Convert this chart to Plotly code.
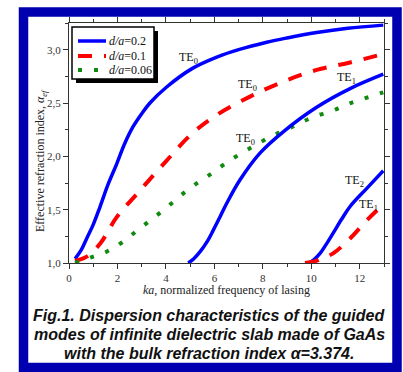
import plotly.graph_objects as go

# ---------------- data ----------------
ka_b0 = [0.25, 0.5, 0.73, 1.0, 1.28, 1.6, 1.97, 2.3, 2.65, 3.0, 3.34, 4.03, 5.06, 6.1, 7.0, 8.16, 9.0, 10.22, 11.5, 12.97]
n_b0 = [1.04, 1.12, 1.23, 1.36, 1.527, 1.73, 1.93, 2.12, 2.28, 2.40, 2.50, 2.65, 2.82, 2.93, 3.0, 3.07, 3.11, 3.16, 3.20, 3.23]

ka_b1 = [4.92, 5.15, 5.41, 5.7, 5.96, 6.25, 6.51, 7.06, 7.88, 8.84, 10.22, 11.6, 12.97]
n_b1 = [1.0, 1.04, 1.106, 1.2, 1.31, 1.44, 1.56, 1.78, 2.03, 2.23, 2.46, 2.635, 2.77]

ka_b2 = [9.88, 10.1, 10.36, 10.6, 10.9, 11.25, 11.6, 12.29, 12.97]
n_b2 = [1.0, 1.03, 1.09, 1.17, 1.28, 1.41, 1.53, 1.70, 1.865]

ka_r0 = [0.25, 0.73, 1.28, 1.97, 2.93, 4.03, 5.06, 6.08, 7.47, 8.84, 10.22, 11.6, 12.97]
n_r0 = [1.02, 1.06, 1.18, 1.43, 1.68, 1.96, 2.21, 2.385, 2.56, 2.70, 2.81, 2.88, 2.96]

ka_r1 = [9.74, 10.2, 10.5, 10.9, 11.6, 12.29, 12.97]
n_r1 = [1.0, 1.02, 1.05, 1.09, 1.23, 1.40, 1.55]

ka_g0 = [0.25, 0.87, 1.55, 2.17, 2.79, 3.41, 4.03, 4.65, 5.27, 5.89, 6.5, 7.12, 7.74, 8.36, 8.98, 9.6, 10.22, 10.9, 11.5, 12.1, 12.97]
n_g0 = [1.0, 1.05, 1.106, 1.19, 1.30, 1.41, 1.52, 1.64, 1.746, 1.84, 1.94, 2.03, 2.11, 2.19, 2.25, 2.32, 2.38, 2.43, 2.49, 2.535, 2.60]

legend_names = ["<i>d/a</i>=0.2", "<i>d/a</i>=0.1", "<i>d/a</i>=0.06"]

label_text = ["TE<sub>0</sub>", "TE<sub>0</sub>", "TE<sub>1</sub>", "TE<sub>0</sub>", "TE<sub>2</sub>", "TE<sub>1</sub>"]
label_ka = [4.95, 7.35, 11.45, 7.3, 11.8, 12.35]
label_n = [2.92, 2.67, 2.73, 2.16, 1.77, 1.54]

x_ticks = [0, 2, 4, 6, 8, 10, 12]
y_ticks = [1.0, 1.5, 2.0, 2.5, 3.0]

caption = ["Fig.1. Dispersion characteristics of the guided",
           "modes of infinite dielectric slab made of GaAs",
           "with the bulk refraction index \u03b1=3.374."]

# ---------------- layout helpers (pixel -> paper) ----------------
W, H = 403, 372
L, R, T, B = 69, 384, 23, 263
PW, PH = R - L, B - T


def px(p):
    return (p - L) / PW


def py(p):
    return (B - p) / PH


BLUE = "#0000ff"
RED = "#ff0000"
GREEN = "#108a10"
FRAME = "#0000b0"

styles = [
    dict(color=BLUE, width=3.5),
    dict(color=RED, width=4, dash="14px,12px"),
    dict(color=GREEN, width=4, dash="4px,12px"),
]

fig = go.Figure()
series = [(ka_b0, n_b0, 0), (ka_r0, n_r0, 1), (ka_g0, n_g0, 2),
          (ka_b1, n_b1, 0), (ka_b2, n_b2, 0), (ka_r1, n_r1, 1)]
for xs, ys, s in series:
    fig.add_trace(go.Scatter(x=xs, y=ys, mode="lines", name=legend_names[s], showlegend=False,
                             line=dict(shape="spline", **styles[s])))

serif = "Liberation Serif, Times New Roman, serif"
sans = "Liberation Sans, Arial, sans-serif"

annotations = []
for t, xk, yn in zip(label_text, label_ka, label_n):
    annotations.append(dict(x=xk, y=yn, xref="x", yref="y", text=t, showarrow=False,
                            xanchor="center", yanchor="middle",
                            font=dict(family=serif, size=12, color="#111")))

annotations.append(dict(x=px(226), y=py(290), xref="paper", yref="paper",
                        xanchor="center", yanchor="middle",
                        text="<i>ka</i>, normalized frequency of lasing", showarrow=False,
                        font=dict(family=serif, size=12, color="#222")))
annotations.append(dict(x=px(41), y=py(161), xref="paper", yref="paper",
                        xanchor="center", yanchor="middle",
                        text="Effective refraction index, <i>\u03b1<sub>ef</sub></i>", showarrow=False,
                        textangle=-90, font=dict(family=serif, size=12, color="#222")))
for i, line in enumerate(caption):
    annotations.append(dict(x=px(209), y=py(315 + 19.3 * i), xref="paper", yref="paper",
                            xanchor="center", yanchor="middle",
                            text="<b><i>" + line + "</i></b>", showarrow=False,
                            font=dict(family=sans, size=16, color="#111")))

shapes = [
    # blue frame
    dict(type="rect", xref="paper", yref="paper", x0=px(23.5), x1=px(397), y0=py(12), y1=py(367.5),
         line=dict(color=FRAME, width=9.5), fillcolor="rgba(0,0,0,0)", layer="below"),
    # legend shadow
    dict(type="rect", xref="paper", yref="paper", x0=px(76), x1=px(158), y0=py(31), y1=py(83),
         line=dict(width=0), fillcolor="#000", layer="above"),
    # legend box
    dict(type="rect", xref="paper", yref="paper", x0=px(72), x1=px(154), y0=py(27), y1=py(79),
         line=dict(color="#000", width=1.5), fillcolor="white", layer="above"),
]

# hand-drawn legend (rows spaced tighter than plotly's legend allows)
legend_rows = [41, 56, 70]
for s, yrow in enumerate(legend_rows):
    shapes.append(dict(type="line", xref="paper", yref="paper", x0=px(78), x1=px(106),
                       y0=py(yrow), y1=py(yrow), line=styles[s], layer="above"))
    annotations.append(dict(x=px(107), y=py(yrow), xref="paper", yref="paper",
                            xanchor="left", yanchor="middle", text=legend_names[s], showarrow=False,
                            font=dict(family=serif, size=12, color="#111")))

axis_common = dict(showgrid=False, zeroline=False, showline=True, linecolor="#333", linewidth=1,
                   mirror="allticks", ticks="outside", ticklen=5, tickwidth=1, tickcolor="#333",
                   tickfont=dict(family=serif, size=11, color="#333"))

fig.update_layout(
    width=W, height=H,
    margin=dict(l=L, r=W - R, t=T, b=H - B),
    paper_bgcolor="white", plot_bgcolor="rgba(0,0,0,0)",
    separators=",.",
    showlegend=False,
    xaxis=dict(range=[0, 13], tickvals=x_ticks, ticktext=[str(v) for v in x_ticks],
               minor=dict(dtick=1, ticks="outside", ticklen=3, tickcolor="#333"), **axis_common),
    yaxis=dict(range=[1.0, 3.25], tickvals=y_ticks, tickformat=".1f",
               minor=dict(tickvals=[1.25, 1.75, 2.25, 2.75, 3.25], ticks="outside", ticklen=3,
                          tickcolor="#333"), **axis_common),
    annotations=annotations,
    shapes=shapes,
)

fig.write_html("out.html", config={"displayModeBar": False},
               post_script="document.body.style.margin='0';document.body.style.overflow='hidden';")
